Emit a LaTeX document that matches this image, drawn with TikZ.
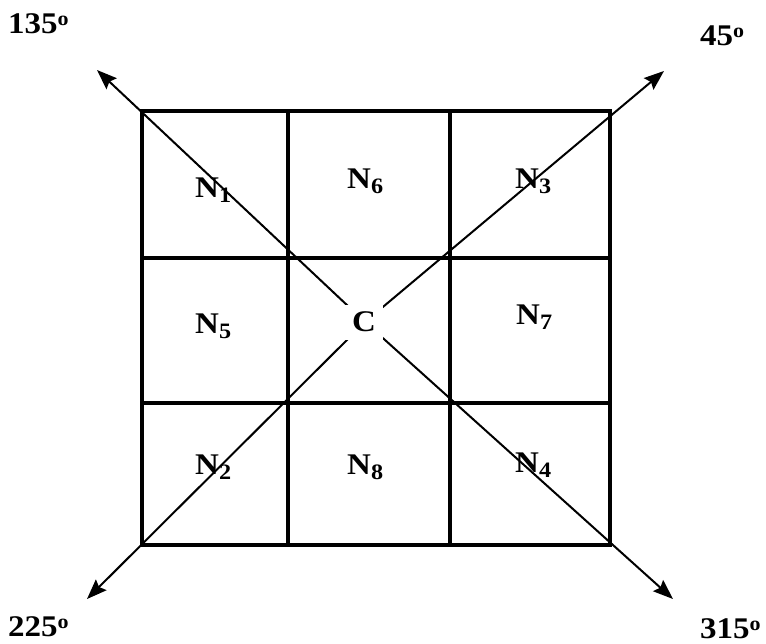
\documentclass[tikz,border=0pt]{standalone}
\usepackage{fontspec}
\setmainfont[FakeStretch=1.1]{Liberation Serif}
\usetikzlibrary{arrows.meta}
\newcommand{\Nlab}[1]{N\raisebox{-5pt}{\fontsize{22}{22}\selectfont #1}}
\newcommand{\Deg}[1]{#1\raisebox{8pt}{\fontsize{20}{20}\selectfont o}}
\begin{document}
\begin{tikzpicture}[x=1pt,y=-1pt,
  gridline/.style={line width=4pt,line cap=rect},
  tip/.tip={Stealth[length=20pt,width=15pt,inset=3pt]},
  diag/.style={line width=2pt},
  lab/.style={font=\fontsize{30}{34}\selectfont\bfseries,inner sep=0pt,anchor=base west},
  anglab/.style={font=\fontsize{30}{34}\selectfont\bfseries,inner sep=0pt,anchor=base west},
  cnode/.style={font=\fontsize{30}{34}\selectfont\bfseries,fill=white,minimum width=38pt,minimum height=35pt,inner sep=0pt}]
\useasboundingbox (0,0) rectangle (766,643);
\fill[white] (0,0) rectangle (766,643);
% corners and tips
\coordinate (tl) at (142,111);
\coordinate (tr) at (610,111);
\coordinate (bl) at (142,545);
\coordinate (br) at (610,545);
\coordinate (x0) at (365,322);
\coordinate (t135) at (97,70);
\coordinate (t45) at (664,71);
\coordinate (t225) at (87,599);
\coordinate (t315) at (673,599);
% diagonals
\draw[diag,tip-] (t135) -- (x0);
\draw[diag,-tip] (x0) -- (t315);
\draw[diag,tip-] (t225) -- (x0);
\draw[diag,-tip] (x0) -- (t45);
% grid
\draw[gridline] (tl) rectangle (br);
\draw[gridline] (288,111) -- (288,545);
\draw[gridline] (450,111) -- (450,545);
\draw[gridline] (142,258) -- (610,258);
\draw[gridline] (142,403) -- (610,403);
% centre
\node[cnode] (c) at (364,322) {C};
% labels
\node[lab] (n1) at (195,197) {\Nlab{1}};
\node[lab] (n6) at (347,188) {\Nlab{6}};
\node[lab] (n3) at (515,188) {\Nlab{3}};
\node[lab] (n5) at (195,333) {\Nlab{5}};
\node[lab] (n7) at (516,324) {\Nlab{7}};
\node[lab] (n2) at (195,474) {\Nlab{2}};
\node[lab] (n8) at (347,474) {\Nlab{8}};
\node[lab] (n4) at (515,472) {\Nlab{4}};
\node[anglab] (a135) at (8,33) {\Deg{135}};
\node[anglab] (a45) at (700,45) {\Deg{45}};
\node[anglab] (a225) at (8,636) {\Deg{225}};
\node[anglab] (a315) at (700,638) {\Deg{315}};
\end{tikzpicture}
\end{document}
